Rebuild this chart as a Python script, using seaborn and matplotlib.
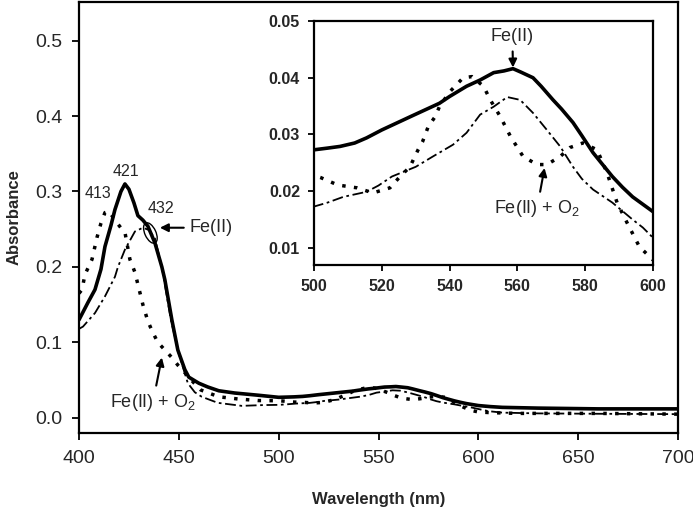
import matplotlib
matplotlib.use("Agg")
import matplotlib.pyplot as plt
import matplotlib.transforms as mtransforms
from matplotlib.patches import Ellipse
import seaborn as sns

# Fe(II), solid line
wl_fe = [400, 404.5, 408, 411, 413, 416, 418, 421, 423, 425, 427.5, 429.5, 432, 434.5,
         438, 441.5, 443, 446.5, 449.5, 453, 455, 460, 464.5, 470, 478, 490,
         500, 504, 507.7, 512, 515.5, 520, 525.4, 529, 533, 537, 540, 545, 549, 553,
         556, 558.7, 561, 564.6, 567, 570.5, 573, 576.4, 579, 582.3, 585, 588, 591,
         594, 597, 600, 606, 612, 630, 660, 700]
abs_fe = [0.130, 0.153, 0.170, 0.197, 0.227, 0.255, 0.276, 0.300, 0.310, 0.303, 0.285,
          0.268, 0.262, 0.254, 0.232, 0.200, 0.183, 0.130, 0.090, 0.064, 0.054, 0.046,
          0.041, 0.036, 0.033, 0.030,
          0.0273, 0.0276, 0.0279, 0.0285, 0.0294, 0.0308, 0.0323, 0.0333, 0.0344, 0.0355,
          0.0367, 0.0385, 0.0396, 0.0409, 0.0412, 0.0416, 0.0410, 0.0400, 0.0385, 0.0361,
          0.0345, 0.0321, 0.0298, 0.0268, 0.0248, 0.0226, 0.0207, 0.0190, 0.0177, 0.0164,
          0.015, 0.014, 0.013, 0.012, 0.012]

# Fe(II) + O2, dotted line
wl_ox = [400, 401.5, 403, 406.5, 409, 411, 413, 415, 418, 421.5, 423, 425.5, 428, 432,
         434.5, 437, 439.5, 443, 446.5, 449.5, 453, 457, 461, 470, 480, 490,
         500, 502, 507, 512.7, 517.4, 522.4, 525.4, 528.3, 530.7, 532, 533.7, 535.7, 537,
         540, 544, 546.6, 550, 552, 555, 558, 561.7, 565.8, 568.7, 572.6, 575.5, 579.3,
         583.5, 586.4, 589.4, 592.3, 596, 600, 606, 620, 660, 700]
abs_ox = [0.165, 0.170, 0.190, 0.210, 0.239, 0.258, 0.272, 0.274, 0.262, 0.250, 0.246,
          0.210, 0.193, 0.150, 0.128, 0.113, 0.100, 0.090, 0.080, 0.070, 0.060, 0.048,
          0.037, 0.028, 0.025, 0.023,
          0.0228, 0.0224, 0.0211, 0.0206, 0.0197, 0.0206, 0.0226, 0.0243, 0.0273, 0.0287,
          0.0314, 0.0331, 0.0349, 0.0375, 0.0400, 0.0402, 0.0385, 0.0361, 0.0331, 0.0296,
          0.0261, 0.0247, 0.0247, 0.0261, 0.0277, 0.0285, 0.0273, 0.0233, 0.0180, 0.0145,
          0.0102, 0.0079, 0.007, 0.006, 0.006, 0.005]

# third spectrum, dash-dot line
wl_dd = [400, 402, 408, 413, 418, 419.5, 423, 428, 432, 435, 438, 441.5, 446, 450, 454.5,
         458, 461.5, 469.5, 481.5, 492,
         500, 504, 508.6, 515.5, 519, 523, 530, 535, 541, 545, 549, 553, 557, 560.8,
         564.6, 568.7, 572.6, 576.4, 579, 582.3, 588, 594, 597, 600, 605, 612, 630, 660, 700]
abs_dd = [0.118, 0.121, 0.139, 0.161, 0.187, 0.200, 0.223, 0.247, 0.252, 0.249, 0.238,
          0.200, 0.130, 0.085, 0.046, 0.034, 0.028, 0.020, 0.016, 0.017,
          0.0173, 0.0180, 0.0190, 0.0199, 0.0210, 0.0226, 0.0243, 0.0261, 0.0282, 0.0303,
          0.0335, 0.0349, 0.0366, 0.0361, 0.0338, 0.0308, 0.0279, 0.0243, 0.0222, 0.0203,
          0.0180, 0.0150, 0.0136, 0.0118, 0.009, 0.007, 0.006, 0.0055, 0.005]

main_xticks = [400, 450, 500, 550, 600, 650, 700]
main_yticks = [0.0, 0.1, 0.2, 0.3, 0.4, 0.5]
inset_xticks = [500, 520, 540, 560, 580, 600]
inset_yticks = [0.01, 0.02, 0.03, 0.04, 0.05]

sns.set_style("ticks")
plt.rcParams["font.family"] = ["Liberation Sans", "DejaVu Sans"]
plt.rcParams["mathtext.fontset"] = "custom"
plt.rcParams["mathtext.rm"] = "Liberation Sans"

styles = [
    (wl_fe, abs_fe, dict(lw=2.6, ls="-")),
    (wl_ox, abs_ox, dict(lw=2.5, ls=(0, (1, 2.4)), dash_capstyle="butt")),
    (wl_dd, abs_dd, dict(lw=1.3, ls=(0, (6, 2, 1.5, 2)))),
]

fig = plt.figure(figsize=(6.93, 5.11), dpi=100)
ax = fig.add_axes([0.114, 0.1526, 0.8644, 0.8434])
ins = fig.add_axes([0.4531, 0.4814, 0.4892, 0.4775])

for a in (ax, ins):
    for wl, ab, kw in styles:
        sns.lineplot(x=wl, y=ab, ax=a, color="black", estimator=None, sort=False,
                     legend=False, **kw)
    for s in a.spines.values():
        s.set_visible(True)
        s.set_color("black")
        s.set_linewidth(1.6)
    a.set_xlabel("")
    a.set_ylabel("")

# main axes
ax.set_xlim(400, 700)
ax.set_ylim(-0.02, 0.551)
ax.set_xticks(main_xticks)
ax.set_xticklabels([str(t) for t in main_xticks])
ax.set_yticks(main_yticks)
ax.set_yticklabels([f"{t:.1f}" for t in main_yticks])
ax.tick_params(direction="out", length=5, width=1.3, color="black", labelsize=14, pad=7)
ax.set_xlabel("Wavelength (nm)", fontsize=12, fontweight="bold", labelpad=18)
ax.set_ylabel("Absorbance", fontsize=12, fontweight="bold", labelpad=10)

# inset axes
ins.set_xlim(500, 600)
ins.set_ylim(0.007, 0.05)
ins.set_xticks(inset_xticks)
ins.set_xticklabels([str(t) for t in inset_xticks])
ins.set_yticks(inset_yticks)
ins.set_yticklabels([f"{t:.2f}" for t in inset_yticks])
ins.tick_params(direction="out", length=4, width=1.3, color="black", labelsize=11.5, pad=6)
for lab in ins.get_xticklabels() + ins.get_yticklabels():
    lab.set_fontweight("bold")

arrow = dict(arrowstyle="-|>", color="black", lw=1.5, mutation_scale=12, shrinkA=2, shrinkB=0)

# peak labels
ax.text(423.7, 0.326, "421", ha="center", va="center", fontsize=11.5)
ax.text(409.5, 0.298, "413", ha="center", va="center", fontsize=11.5)
ax.text(441, 0.277, "432", ha="center", va="center", fontsize=11.5)

trans = fig.dpi_scale_trans + mtransforms.ScaledTranslation(435.75, 0.245, ax.transData)
ax.add_patch(Ellipse((0, 0), width=0.11, height=0.22, angle=25, transform=trans,
                     fill=False, edgecolor="black", lw=1))

ax.annotate("Fe(II)", xy=(440.5, 0.252), xytext=(455.5, 0.252), ha="left", va="center",
            fontsize=13, arrowprops=arrow)
ax.annotate("Fe(II) + $\\mathrm{O}_2$", xy=(441.5, 0.08), xytext=(437, 0.021),
            ha="center", va="center", fontsize=13, arrowprops=arrow)

ins.annotate("Fe(II)", xy=(558.7, 0.0418), xytext=(558.5, 0.0472), ha="center",
             va="center", fontsize=13, arrowprops=arrow)
ins.annotate("Fe(II) + $\\mathrm{O}_2$", xy=(568, 0.0241), xytext=(565.8, 0.017),
             ha="center", va="center", fontsize=13, arrowprops=arrow)

fig.savefig("out.png", dpi=100)
plt.close(fig)
